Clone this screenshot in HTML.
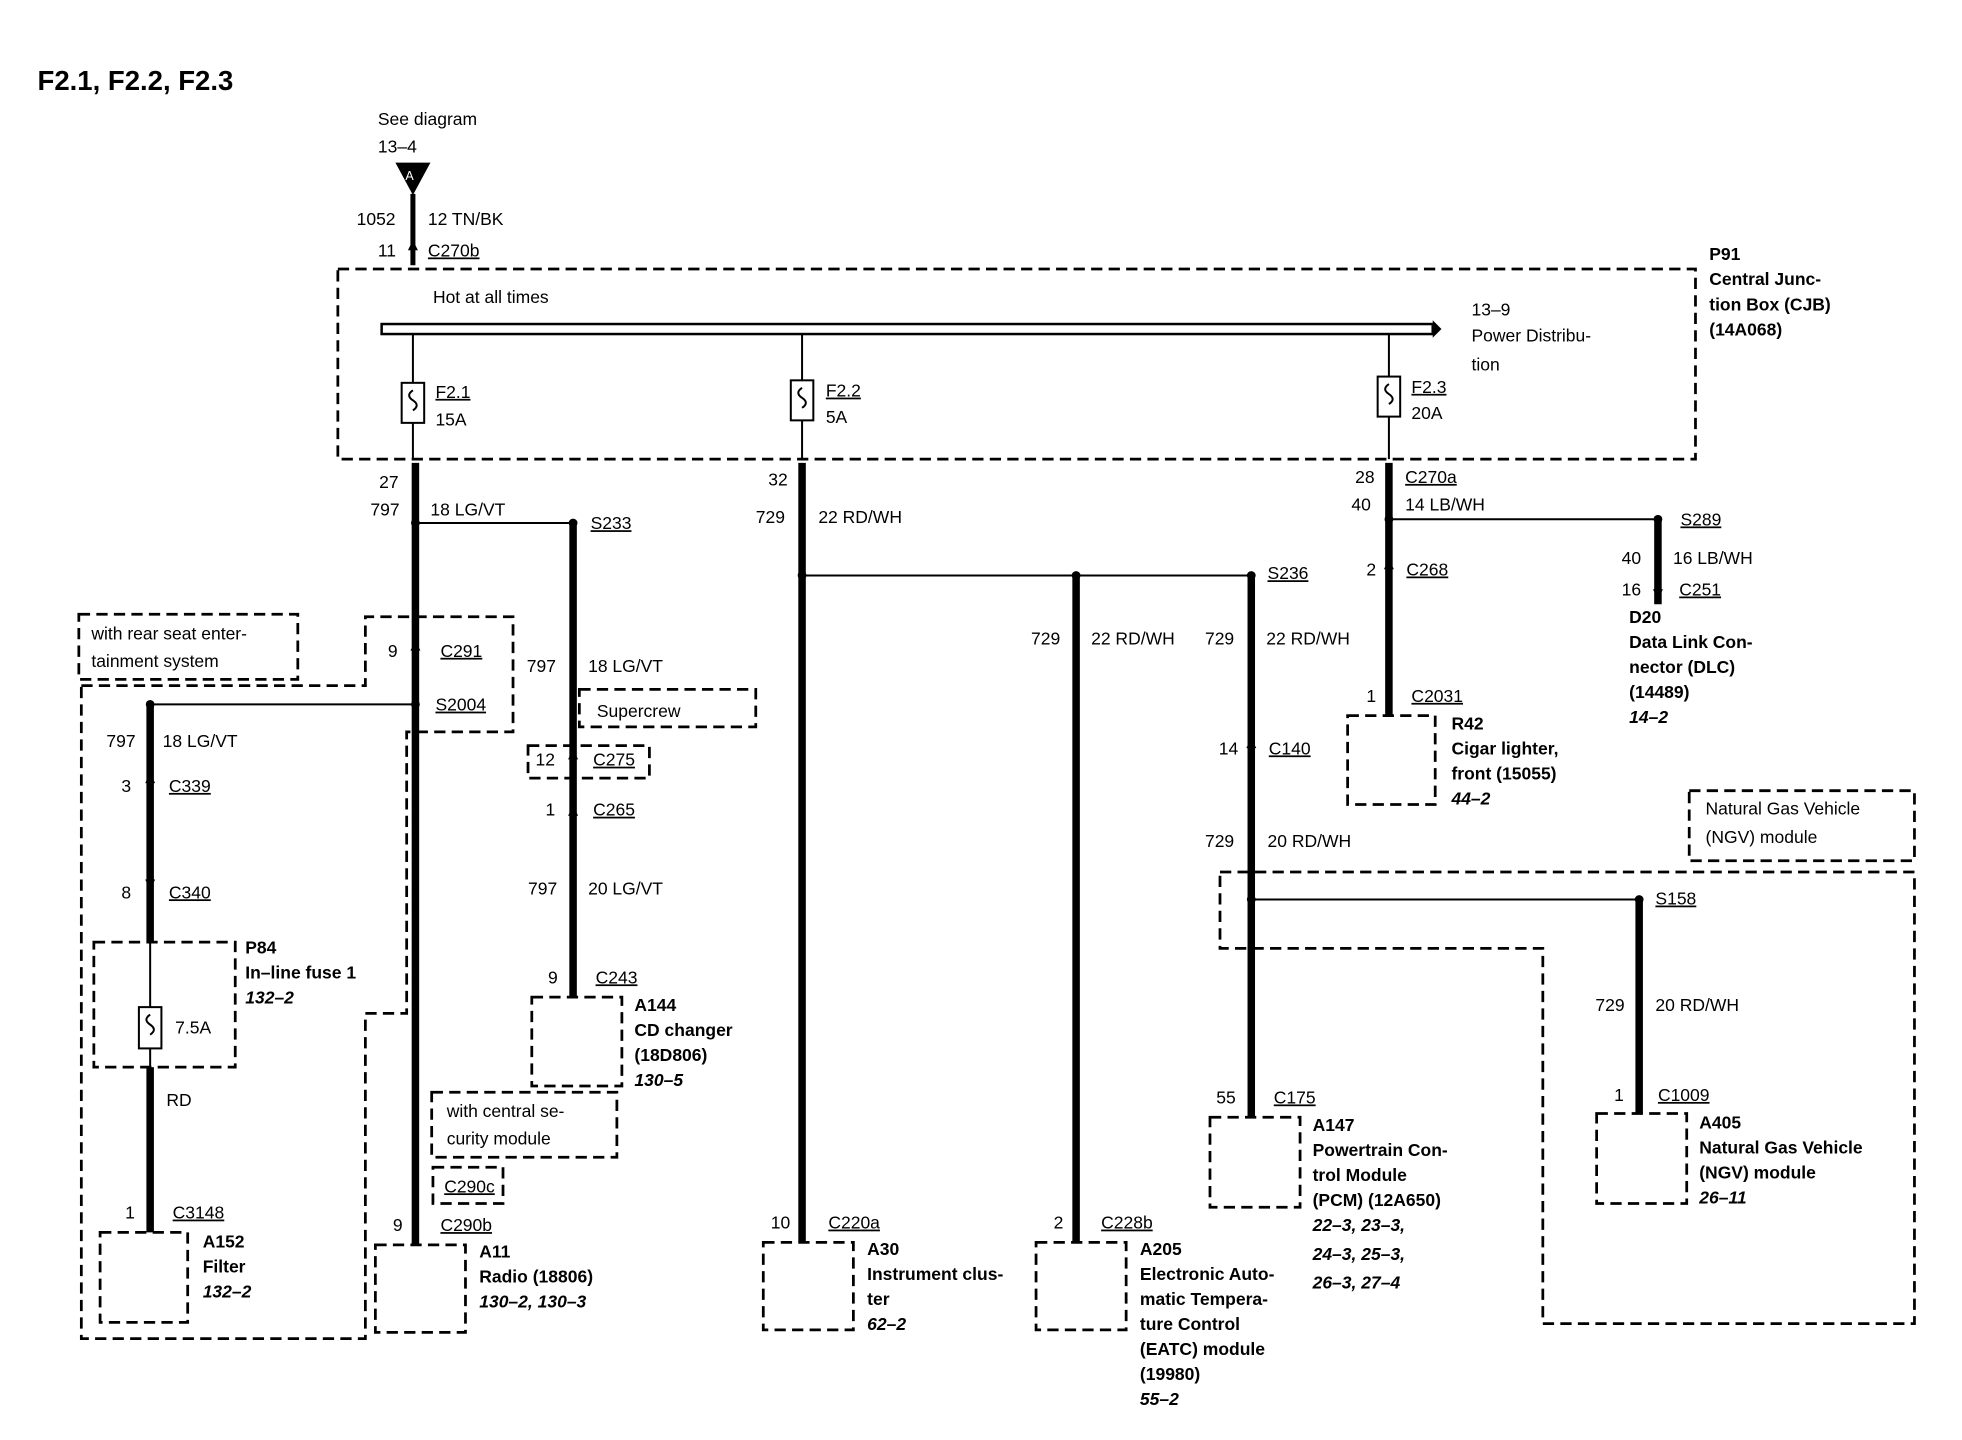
<!DOCTYPE html>
<html><head><meta charset="utf-8"><style>
html,body{margin:0;padding:0;background:#fff}
svg{display:block}
text{font-family:"Liberation Sans",Arial,sans-serif;font-size:14px;fill:#000}
.b{font-weight:bold}
.i{font-style:italic;font-weight:bold}
.u{text-decoration:underline}
.d{fill:none;stroke:#000;stroke-width:2.2;stroke-dasharray:9 5}
.t{stroke:#000;stroke-width:6;fill:none}
.n{stroke:#000;stroke-width:1.6;fill:none}
</style></head><body>
<svg width="1962" height="1440" viewBox="0 0 1568 1151" preserveAspectRatio="none" xmlns="http://www.w3.org/2000/svg">
<text x="30" y="72" class="b" style="font-size:22px">F2.1, F2.2, F2.3</text>
<text x="302" y="100">See diagram</text><text x="302" y="122">13–4</text>
<polygon points="316,130 344,130 330,156" fill="#000"/><text x="324" y="144" style="font-size:10px;fill:#fff">A</text>
<line class="t" x1="330" y1="155" x2="330" y2="212" style="stroke-width:4"/>
<text x="285" y="180">1052</text><text x="342" y="180">12 TN/BK</text>
<text x="302" y="205">11</text><text x="342" y="205" class="u">C270b</text>
<rect class="d" x="270" y="215" width="1085" height="152"/>
<text x="346" y="242">Hot at all times</text>
<rect x="305" y="259" width="840" height="8" fill="#fff" stroke="#000" stroke-width="2"/>
<polygon points="1145,256 1152,263 1145,270" fill="#000"/>
<text x="1176" y="252">13–9</text><text x="1176" y="273">Power Distribu-</text><text x="1176" y="296">tion</text>
<text x="1366" y="208" class="b">P91</text><text x="1366" y="228" class="b">Central Junc-</text><text x="1366" y="248" class="b">tion Box (CJB)</text><text x="1366" y="268" class="b">(14A068)</text>
<g class="n">
<line x1="330" y1="267" x2="330" y2="367"/><rect x="321" y="306" width="18" height="32" fill="#fff"/><path d="M330,312 q-6,4 0,8 q6,4 0,8"/>
<line x1="641" y1="267" x2="641" y2="367"/><rect x="632" y="304" width="18" height="32" fill="#fff"/><path d="M641,310 q-6,4 0,8 q6,4 0,8"/>
<line x1="1110" y1="267" x2="1110" y2="367"/><rect x="1101" y="301" width="18" height="32" fill="#fff"/><path d="M1110,307 q-6,4 0,8 q6,4 0,8"/>
</g>
<text x="348" y="318" class="u">F2.1</text><text x="348" y="340">15A</text>
<text x="660" y="317" class="u">F2.2</text><text x="660" y="338">5A</text>
<text x="1128" y="314" class="u">F2.3</text><text x="1128" y="335">20A</text>
<line class="t" x1="332" y1="370" x2="332" y2="995"/>
<text x="303" y="390">27</text><text x="296" y="412">797</text><text x="344" y="412">18 LG/VT</text>
<line class="n" x1="332" y1="418" x2="458" y2="418"/><circle cx="332" cy="418" r="3.5"/><circle cx="458" cy="418" r="3.5"/>
<text x="472" y="423" class="u">S233</text>
<line class="t" x1="458" y1="418" x2="458" y2="797"/>
<text x="310" y="525">9</text><text x="352" y="525" class="u">C291</text>
<circle cx="332" cy="563" r="3.5"/><text x="348" y="568" class="u">S2004</text>
<line class="n" x1="120" y1="563" x2="332" y2="563"/><circle cx="120" cy="563" r="3.5"/>
<rect class="d" x="63" y="491" width="175" height="52"/>
<text x="73" y="511">with rear seat enter-</text><text x="73" y="533">tainment system</text>
<path class="d" d="M65,548 H292 V493 H410 V585 H325 V810 H292 V1070 H65 Z"/>
<line class="t" x1="120" y1="563" x2="120" y2="985"/>
<text x="85" y="597">797</text><text x="130" y="597">18 LG/VT</text>
<text x="97" y="633">3</text><text x="135" y="633" class="u">C339</text>
<text x="97" y="718">8</text><text x="135" y="718" class="u">C340</text>
<rect class="d" x="75" y="753" width="113" height="100" style="fill:#fff"/>
<line class="n" x1="120" y1="753" x2="120" y2="853"/>
<rect class="n" x="111" y="805" width="18" height="33" style="fill:#fff"/><path class="n" d="M120,811 q-6,4 0,8 q6,4 0,8"/>
<text x="140" y="826">7.5A</text>
<text x="196" y="762" class="b">P84</text><text x="196" y="782" class="b">In–line fuse 1</text><text x="196" y="802" class="i">132–2</text>
<text x="133" y="884">RD</text>
<text x="100" y="974">1</text><text x="138" y="974" class="u">C3148</text>
<rect class="d" x="80" y="985" width="70" height="72"/>
<text x="162" y="997" class="b">A152</text><text x="162" y="1017" class="b">Filter</text><text x="162" y="1037" class="i">132–2</text>
<rect class="d" x="345" y="873" width="148" height="52"/><text x="357" y="893">with central se-</text><text x="357" y="915">curity module</text>
<rect class="d" x="346" y="933" width="56" height="29"/><text x="355" y="953" class="u">C290c</text>
<text x="314" y="984">9</text><text x="352" y="984" class="u">C290b</text>
<rect class="d" x="300" y="995" width="72" height="70" style="fill:#fff"/>
<text x="383" y="1005" class="b">A11</text><text x="383" y="1025" class="b">Radio (18806)</text><text x="383" y="1045" class="i">130–2, 130–3</text>
<text x="421" y="537">797</text><text x="470" y="537">18 LG/VT</text>
<rect class="d" x="463" y="551" width="141" height="30"/><text x="477" y="573">Supercrew</text>
<rect class="d" x="422" y="596" width="97" height="26"/><text x="428" y="612">12</text><text x="474" y="612" class="u">C275</text>
<text x="436" y="652">1</text><text x="474" y="652" class="u">C265</text>
<text x="422" y="715">797</text><text x="470" y="715">20 LG/VT</text>
<text x="438" y="786">9</text><text x="476" y="786" class="u">C243</text>
<rect class="d" x="425" y="797" width="72" height="71"/>
<text x="507" y="808" class="b">A144</text><text x="507" y="828" class="b">CD changer</text><text x="507" y="848" class="b">(18D806)</text><text x="507" y="868" class="i">130–5</text>
<line class="t" x1="641" y1="370" x2="641" y2="993"/>
<text x="614" y="388">32</text><text x="604" y="418">729</text><text x="654" y="418">22 RD/WH</text>
<line class="n" x1="641" y1="460" x2="1000" y2="460"/><circle cx="641" cy="460" r="3.5"/><circle cx="860" cy="460" r="3.5"/><circle cx="1000" cy="460" r="3.5"/>
<text x="616" y="982">10</text><text x="662" y="982" class="u">C220a</text>
<rect class="d" x="610" y="993" width="72" height="70"/>
<text x="693" y="1003" class="b">A30</text><text x="693" y="1023" class="b">Instrument clus-</text><text x="693" y="1043" class="b">ter</text><text x="693" y="1063" class="i">62–2</text>
<line class="t" x1="860" y1="460" x2="860" y2="993"/>
<text x="824" y="515">729</text><text x="872" y="515">22 RD/WH</text>
<text x="842" y="982">2</text><text x="880" y="982" class="u">C228b</text>
<rect class="d" x="828" y="993" width="72" height="70"/>
<text x="911" y="1003" class="b">A205</text><text x="911" y="1023" class="b">Electronic Auto-</text><text x="911" y="1043" class="b">matic Tempera-</text><text x="911" y="1063" class="b">ture Control</text><text x="911" y="1083" class="b">(EATC) module</text><text x="911" y="1103" class="b">(19980)</text><text x="911" y="1123" class="i">55–2</text>
<line class="t" x1="1000" y1="460" x2="1000" y2="893"/>
<text x="1013" y="463" class="u">S236</text>
<text x="963" y="515">729</text><text x="1012" y="515">22 RD/WH</text>
<text x="974" y="603">14</text><text x="1014" y="603" class="u">C140</text>
<text x="963" y="677">729</text><text x="1013" y="677">20 RD/WH</text>
<rect class="d" x="1350" y="632" width="180" height="56"/><text x="1363" y="651">Natural Gas Vehicle</text><text x="1363" y="674">(NGV) module</text>
<path class="d" d="M975,697 H1530 V1058 H1233 V758 H975 Z"/>
<line class="n" x1="1000" y1="719" x2="1310" y2="719"/><circle cx="1000" cy="719" r="3.5"/><circle cx="1310" cy="719" r="3.5"/>
<text x="1323" y="723" class="u">S158</text>
<line class="t" x1="1310" y1="719" x2="1310" y2="890"/>
<text x="1275" y="808">729</text><text x="1323" y="808">20 RD/WH</text>
<text x="1290" y="880">1</text><text x="1325" y="880" class="u">C1009</text>
<rect class="d" x="1276" y="890" width="72" height="72"/>
<text x="1358" y="902" class="b">A405</text><text x="1358" y="922" class="b">Natural Gas Vehicle</text><text x="1358" y="942" class="b">(NGV) module</text><text x="1358" y="962" class="i">26–11</text>
<text x="972" y="882">55</text><text x="1018" y="882" class="u">C175</text>
<rect class="d" x="967" y="893" width="72" height="72"/>
<text x="1049" y="904" class="b">A147</text><text x="1049" y="924" class="b">Powertrain Con-</text><text x="1049" y="944" class="b">trol Module</text><text x="1049" y="964" class="b">(PCM) (12A650)</text><text x="1049" y="984" class="i">22–3, 23–3,</text><text x="1049" y="1007" class="i">24–3, 25–3,</text><text x="1049" y="1030" class="i">26–3, 27–4</text>
<line class="t" x1="1110" y1="370" x2="1110" y2="572"/>
<text x="1083" y="386">28</text><text x="1123" y="386" class="u">C270a</text><text x="1080" y="408">40</text><text x="1123" y="408">14 LB/WH</text>
<line class="n" x1="1110" y1="415" x2="1325" y2="415"/><circle cx="1110" cy="415" r="3.5"/><circle cx="1325" cy="415" r="3.5"/>
<text x="1343" y="420" class="u">S289</text>
<line class="t" x1="1325" y1="415" x2="1325" y2="483"/>
<text x="1296" y="451">40</text><text x="1337" y="451">16 LB/WH</text><text x="1296" y="476">16</text><text x="1342" y="476" class="u">C251</text>
<text x="1302" y="498" class="b">D20</text><text x="1302" y="518" class="b">Data Link Con-</text><text x="1302" y="538" class="b">nector (DLC)</text><text x="1302" y="558" class="b">(14489)</text><text x="1302" y="578" class="i">14–2</text>
<text x="1092" y="460">2</text><text x="1124" y="460" class="u">C268</text>
<text x="1092" y="561">1</text><text x="1128" y="561" class="u">C2031</text>
<rect class="d" x="1077" y="572" width="70" height="71"/>
<text x="1160" y="583" class="b">R42</text><text x="1160" y="603" class="b">Cigar lighter,</text><text x="1160" y="623" class="b">front (15055)</text><text x="1160" y="643" class="i">44–2</text>
<g fill="#000">
<polygon points="326,200 330,192 334,200"/><polygon points="328,520 332,512 336,520"/>
<polygon points="116,626 120,618 124,626"/><polygon points="116,703 120,711 124,703"/>
<polygon points="454,607 458,599 462,607"/><polygon points="454,652 458,644 462,652"/>
<polygon points="996,598 1000,590 1004,598"/><polygon points="1106,455 1110,447 1114,455"/>
<polygon points="1321,471 1325,479 1329,471"/>
</g>
</svg>
</body></html>
